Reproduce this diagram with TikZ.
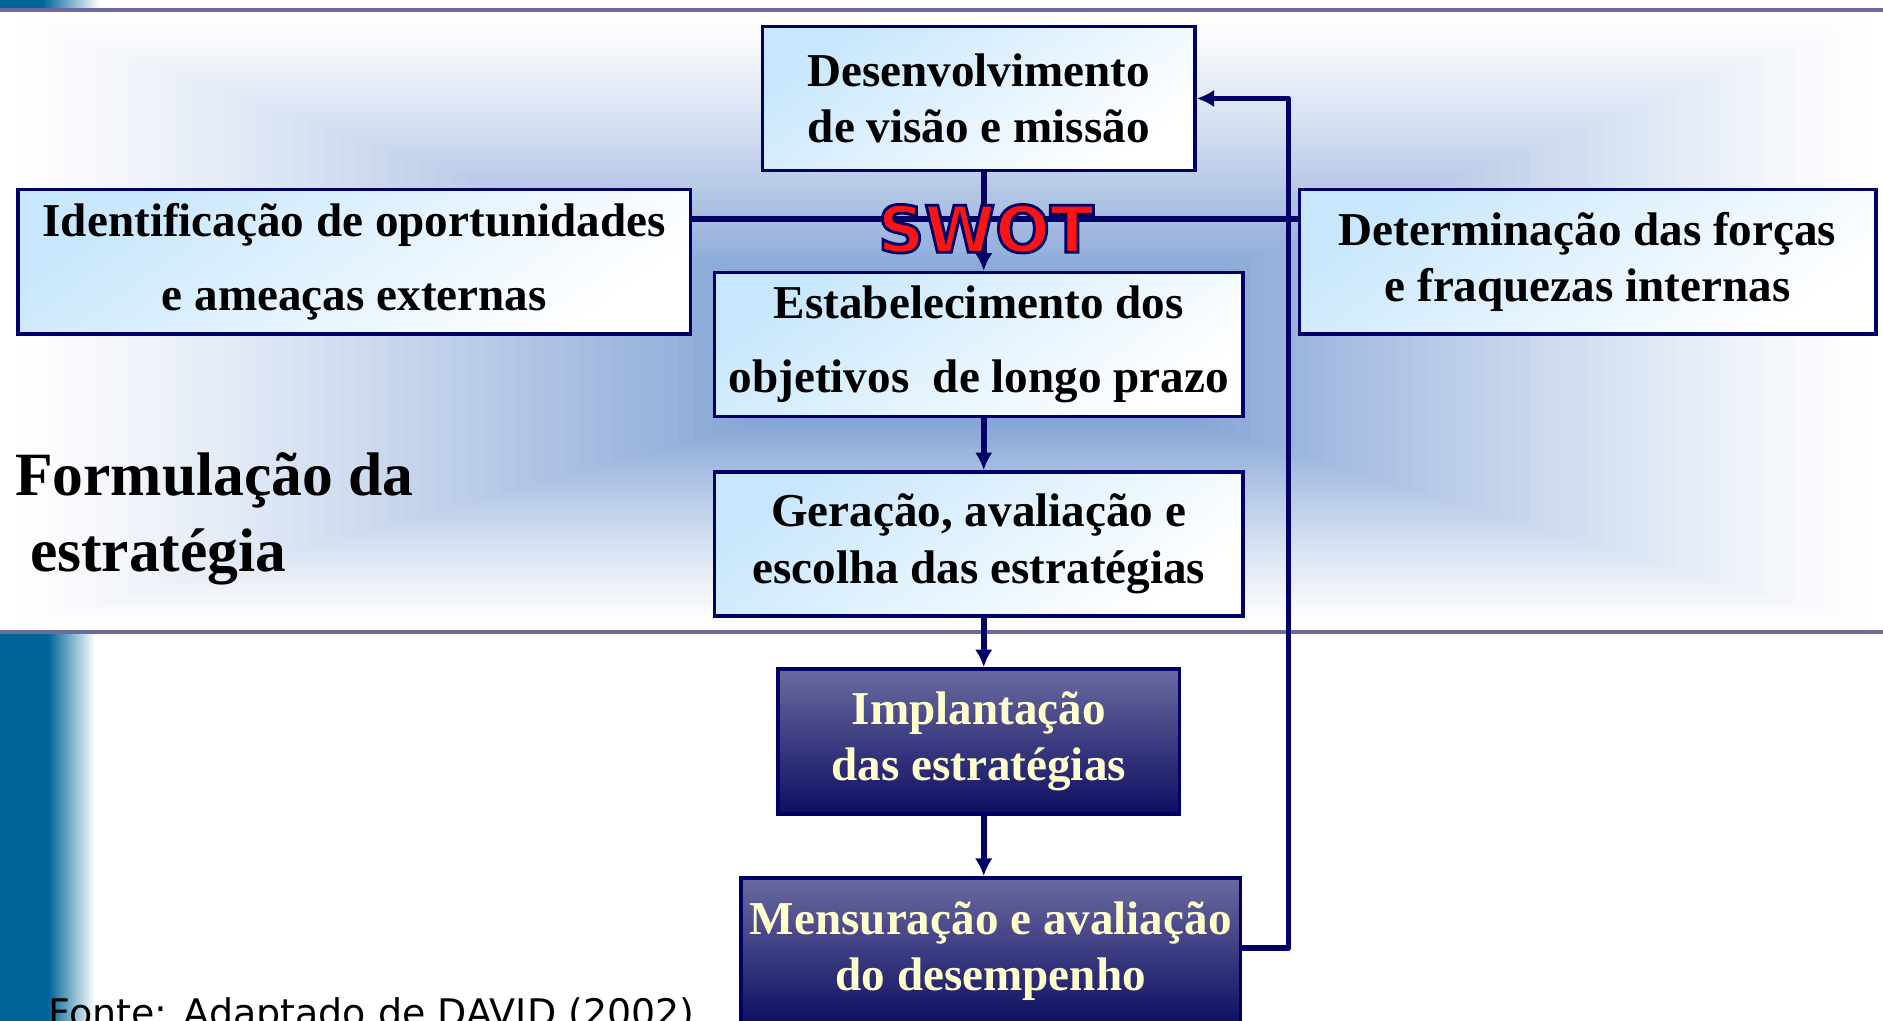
\documentclass[tikz,border=0pt]{standalone}
\usepackage{fontspec}
\setmainfont{Liberation Serif}
\newfontfamily\swotfont{DejaVu Sans}
\newfontfamily\notefont{DejaVu Sans}
\usetikzlibrary{arrows.meta,calc,positioning}
\definecolor{linenavy}{RGB}{0,0,102}
\definecolor{rulegray}{RGB}{107,107,158}
\definecolor{stripblue}{RGB}{0,102,153}
\definecolor{glowblue}{RGB}{78,124,196}
\definecolor{boxblue}{RGB}{200,231,252}
\definecolor{darktop}{RGB}{106,106,160}
\definecolor{darkbot}{RGB}{14,14,98}
\definecolor{cream}{RGB}{255,255,204}
\definecolor{swotred}{RGB}{255,20,20}
% red letters with a navy outline (fill and stroke text)
\newcommand{\outlined}[1]{\special{pdf:literal 2 Tr 0 0 0.4 RG 0.8 w}#1\special{pdf:literal 0 Tr}}
\tikzset{
  >={Latex[length=5pt,width=5pt]},
  lightbox/.style={rectangle, draw=linenavy, line width=1pt, top color=boxblue, bottom color=white,
                   shading angle=35, align=center, inner sep=0pt,
                   font=\fontsize{13.4}{16}\selectfont\bfseries},
  darkbox/.style={rectangle, draw=linenavy, line width=1pt, top color=darktop, bottom color=darkbot,
                  align=center, inner sep=0pt, text=cream,
                  font=\fontsize{13.4}{16}\selectfont\bfseries},
  link/.style={draw=linenavy, line width=1.6pt, ->, line join=round},
  swotline/.style={draw=linenavy, line width=1.6pt},
  rule/.style={draw=rulegray, line width=1.1pt},
  swotword/.style={text=swotred, inner sep=0pt, anchor=base, font=\swotfont\fontsize{18.3}{20}\selectfont\bfseries}
}

\begin{document}
\begin{tikzpicture}
  \clip (0,0) rectangle (18.816,-10.2);

  % Draw background glow between the two rules.
  \foreach \i in {1,...,60}{
    \pgfmathsetmacro\t{\i/61}
    \pgfmathsetmacro\pct{95*(\t)^1.2}
    \fill[glowblue!\pct!white] ({9.84*\t},{-0.114-3.486*\t}) rectangle ({18.816-8.976*\t},{-6.3+2.7*\t});
  }

  % Draw side strips and rules.
  \fill[stripblue] (0,0) rectangle (0.42,-0.1);
  \shade[left color=stripblue,right color=white] (0.42,0) rectangle (1.0,-0.1);
  \fill[stripblue] (0,-6.33) rectangle (0.48,-10.2);
  \shade[left color=stripblue,right color=white] (0.48,-6.33) rectangle (0.95,-10.2);
  \draw[rule] (0,-0.1) -- (18.816,-0.1);
  \draw[rule] (0,-6.312) -- (18.816,-6.312);

  % Boxes of the process.
  \node[lightbox, minimum width=4.32cm, minimum height=1.44cm] (vis) at (9.78,-0.984)
    {Desenvolvimento\\de visão e missão};
  \node[lightbox, minimum width=6.72cm, minimum height=1.44cm] (opp) at (3.54,-2.616)
    {Identificação de oportunidades\\[5pt]e ameaças externas};
  \node[lightbox, minimum width=5.76cm, minimum height=1.44cm] (frc) at (15.864,-2.616)
    {Determinação das forças\\e fraquezas internas};
  \node[lightbox, minimum width=5.28cm, minimum height=1.44cm] (obj) at (9.78,-3.444)
    {Estabelecimento dos\\[5pt]objetivos\ \ de longo prazo};
  \node[lightbox, minimum width=5.28cm, minimum height=1.44cm, below=0.516cm of obj] (ger)
    {Geração, avaliação e\\escolha das estratégias};
  \node[darkbox, minimum width=4.008cm, minimum height=1.452cm] (imp) at (9.78,-7.41)
    {Implantação\\das estratégias};
  \node[darkbox, minimum width=4.992cm, minimum height=1.464cm] (men) at (9.9,-9.504)
    {Mensuração e avaliação\\do desempenho};

  % Connectors.
  \draw[swotline] ($(opp.north east)!0.21!(opp.south east)$) -- ($(frc.north west)!0.21!(frc.south west)$);
  \draw[link] ([xshift=0.05cm]vis.south) -- ([xshift=0.05cm]obj.north);
  \draw[link] ([xshift=0.05cm]obj.south) -- ([xshift=0.05cm]ger.north);
  \draw[link] ([xshift=0.05cm]ger.south) -- ([xshift=0.05cm]imp.north);
  \draw[link] ([xshift=0.05cm]imp.south) -- ([xshift=0.05cm]imp.south |- men.north);
  \coordinate (back) at (12.876,-5);
  \draw[link] ($(men.north east)!0.48!(men.south east)$) -| (back) |- (vis.east);

  % SWOT label.
  \node[swotword] (swot) at (9.852,-2.52) {\outlined{SWOT}};

  % Side title and source.
  \node[anchor=north west, inner sep=0pt, align=left, font=\fontsize{17.5}{21.4}\selectfont\bfseries]
    (title) at (0.144,-4.52) {Formulação da\\\hspace*{0.15cm}estratégia};
  \node[anchor=base west, inner sep=0pt, font=\notefont\fontsize{10.8}{13}\selectfont]
    (src) at (0.48,-10.26) {Fonte: Adaptado de DAVID (2002)};
\end{tikzpicture}
\end{document}
